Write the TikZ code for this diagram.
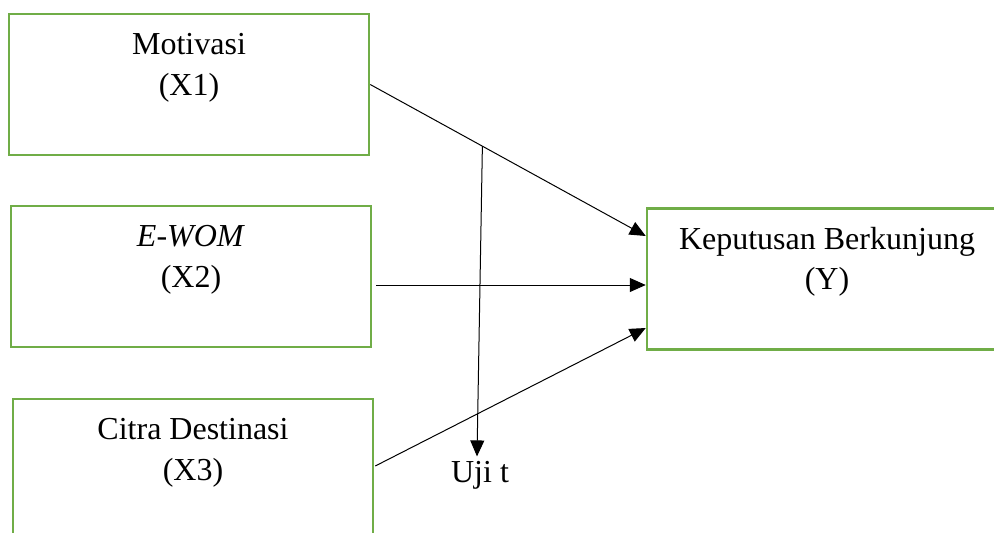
\documentclass[tikz,border=0pt]{standalone}
\usepackage{fontspec}
\setmainfont{Liberation Serif}
\usetikzlibrary{arrows.meta,calc}
\definecolor{vargreen}{HTML}{70AD47}
\tikzset{
  var/.style = {rectangle, draw=vargreen, line width=1.25pt,
                minimum width=180pt, inner sep=0pt,
                text height=40.5pt, text depth=30pt,
                font=\fontsize{16}{20.25}\selectfont, align=center},
  ed/.style  = {-{Triangle[length=8pt, width=7pt]}, draw=black, line width=0.5pt},
  lbl/.style = {font=\fontsize{16}{20.25}\selectfont, inner sep=2pt},
}

\begin{document}
\begin{tikzpicture}[x=0.5pt,y=0.5pt]
  \path[use as bounding box, clip] (0,0) rectangle (994,532);

  % --- variables
  \node[var] (x1) at (189,447.5) {Motivasi\\(X1)};
  \node[var] (x2) at (191,255.5) {\textit{E-WOM}\\(X2)};
  \node[var] (x3) at (193,62.5) {Citra Destinasi\\(X3)};
  \node[var] (y)  at (827,253) {Keputusan Berkunjung\\(Y)};
  \node[lbl, anchor=base] (uji) at (480,50) {Uji t};

  % --- partial effects on Y
  \draw[ed] (x1.east) -- coordinate[pos=0.407] (split) ($(y.west)+(0,43)$);
  \draw[ed] ($(x2.east)+(4,-8.5)$) -- ($(y.west)+(0,-6)$);
  \draw[ed] ($(x3.east)+(1,3.5)$) -- ($(y.west)+(0,-49)$);

  % --- t test
  \draw[ed] (split) -- ([xshift=-1.5pt]uji.north);
\end{tikzpicture}
\end{document}
